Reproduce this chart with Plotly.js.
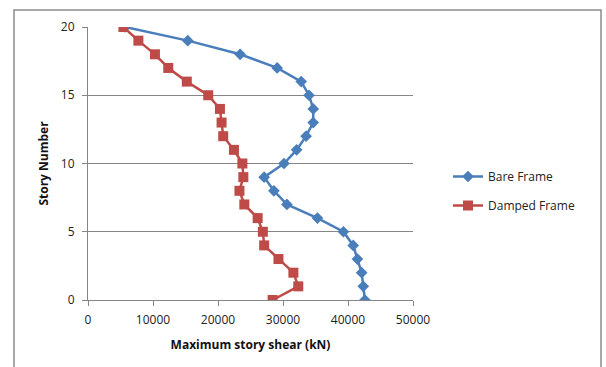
<!DOCTYPE html>
<html>
<head>
<meta charset="utf-8">
<script src="https://cdn.plot.ly/plotly-3.0.1.min.js"></script>
<style>
html,body{margin:0;padding:0;background:#fff;}
#chart{width:606px;height:367px;}
</style>
</head>
<body>
<div id="chart"></div>
<script>
const stories = [0,1,2,3,4,5,6,7,8,9,10,11,12,13,14,15,16,17,18,19,20];
const bareFrame = [42600,42350,42100,41450,40800,39300,35300,30600,28600,27100,30150,32100,33550,34650,34650,34000,32800,29100,23400,15350,5700];
const dampedFrame = [28400,32350,31600,29300,27100,26900,26100,24050,23300,23900,23750,22450,20800,20550,20300,18500,15200,12350,10300,7750,5450];
const xTicks = [0,10000,20000,30000,40000,50000];
const yTicks = [0,5,10,15,20];

const L = 88, R = 413, T = 27, B = 300;
const pw = R - L, ph = B - T;
const px = v => (v - L) / pw;
const py = v => (B - v) / ph;

const traces = [
  {
    x: bareFrame, y: stories, name: 'Bare Frame', type: 'scatter', mode: 'lines+markers',
    legendgroup: 'a',
    line: {color: '#4a7ebb', width: 2.5},
    marker: {symbol: 'diamond', size: 9, color: '#4a7ebb'}
  },
  {
    x: dampedFrame, y: stories, name: 'Damped Frame', type: 'scatter', mode: 'lines+markers',
    legendgroup: 'b',
    line: {color: '#be4b48', width: 2.5},
    marker: {symbol: 'square', size: 10, color: '#be4b48'}
  }
];

const layout = {
  width: 606, height: 367,
  margin: {l: L, r: 606 - R, t: T, b: 367 - B},
  paper_bgcolor: '#ffffff', plot_bgcolor: '#ffffff',
  font: {family: 'Open Sans, Liberation Sans, sans-serif', size: 12, color: '#222'},
  showlegend: true,
  legend: {x: px(448), y: py(162), xanchor: 'left', yanchor: 'top',
           font: {size: 12, color: '#222'}, traceorder: 'grouped', tracegroupgap: 10, itemwidth: 30,
           bgcolor: 'rgba(0,0,0,0)'},
  xaxis: {
    range: [0, 50000], tickvals: xTicks, ticktext: xTicks.map(String),
    showgrid: false, zeroline: false, showline: true, linecolor: '#868686', linewidth: 1,
    ticks: 'outside', ticklen: 5, tickcolor: '#868686', ticklabelstandoff: 4,
    tickfont: {size: 12, color: '#222'},
    title: {text: '<b>Maximum story shear (kN)</b>', font: {size: 12, color: '#111'}, standoff: 13}
  },
  yaxis: {
    range: [0, 20], tickvals: yTicks, ticktext: yTicks.map(String),
    showgrid: true, gridcolor: '#868686', gridwidth: 1, zeroline: false,
    showline: true, linecolor: '#868686', linewidth: 1,
    ticks: 'outside', ticklen: 5, tickcolor: '#868686', ticklabelstandoff: 5,
    tickfont: {size: 12, color: '#222'},
    title: {text: '<b>Story Number</b>', font: {size: 12, color: '#111'}, standoff: 9}
  },
  shapes: [
    {type: 'rect', xref: 'paper', yref: 'paper', x0: px(14), x1: px(601), y0: py(372), y1: py(10),
     line: {color: '#8c8c8c', width: 1.5}, fillcolor: 'rgba(0,0,0,0)', layer: 'below'}
  ]
};

Plotly.newPlot('chart', traces, layout, {displayModeBar: false, staticPlot: true});
</script>
</body>
</html>
